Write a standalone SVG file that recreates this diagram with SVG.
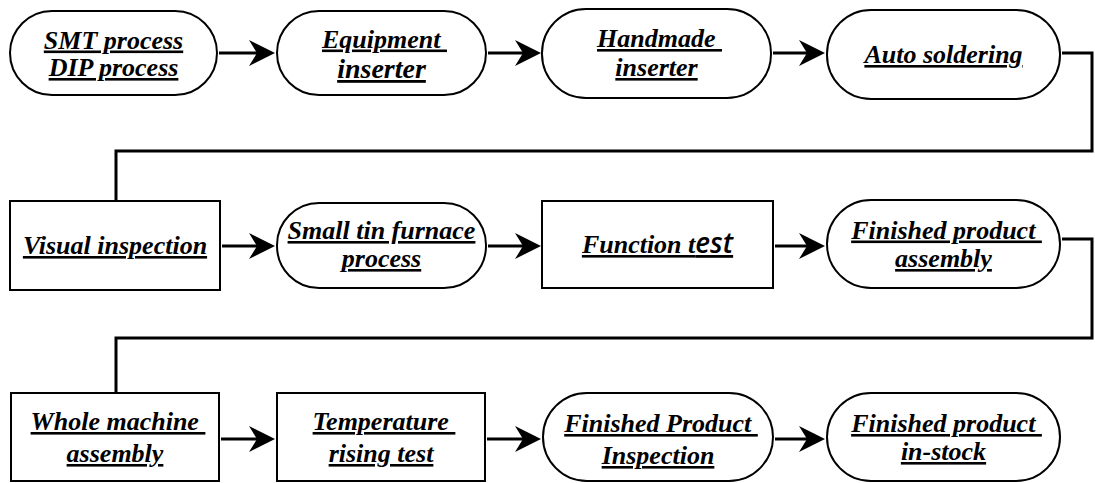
<svg xmlns="http://www.w3.org/2000/svg" width="1095" height="483" viewBox="0 0 1095 483">
<style>
.pill,.box{fill:#fff;stroke:#000;stroke-width:2}
.conn{fill:none;stroke:#000;stroke-width:3}
text{font-family:"Liberation Serif",serif;font-weight:bold;font-style:italic;font-size:26px;text-anchor:middle;text-decoration:underline;fill:#000}
</style>
<defs>
<marker id="ah" markerUnits="userSpaceOnUse" markerWidth="28" markerHeight="26" refX="8" refY="13" orient="auto" viewBox="0 0 28 26"><path d="M0,0 L26,13 L0,26 L8,13 Z" fill="#000"/></marker>
</defs>
<rect width="1095" height="483" fill="#fff"/>
<g id="connectors">
<path class="conn" d="M219,53 H257" marker-end="url(#ah)"/>
<path class="conn" d="M488,53 H523" marker-end="url(#ah)"/>
<path class="conn" d="M773,53 H807" marker-end="url(#ah)"/>
<path class="conn" d="M1062,53 H1092 V151 H116 V201"/>
<path class="conn" d="M222,246 H257" marker-end="url(#ah)"/>
<path class="conn" d="M488,246 H523" marker-end="url(#ah)"/>
<path class="conn" d="M775,246 H807" marker-end="url(#ah)"/>
<path class="conn" d="M1062,239 H1092 V338 H116 V393"/>
<path class="conn" d="M221,439 H257" marker-end="url(#ah)"/>
<path class="conn" d="M487,439 H523" marker-end="url(#ah)"/>
<path class="conn" d="M775,439 H807" marker-end="url(#ah)"/>
</g>
<g id="n1"><rect class="pill" x="10" y="11" width="207" height="84" rx="42"/><text x="113.5" y="48.5">SMT process</text><text x="113.5" y="76">DIP process</text></g>
<g id="n2"><rect class="pill" x="277" y="11" width="209" height="84" rx="42"/><text x="384.5" y="47.5" xml:space="preserve">Equipment </text><text x="381.5" y="78" style="font-size:28px">inserter</text></g>
<g id="n3"><rect class="pill" x="542" y="9" width="229" height="89" rx="44"/><text x="659.5" y="47" xml:space="preserve">Handmade </text><text x="656.5" y="76">inserter</text></g>
<g id="n4"><rect class="pill" x="827" y="10" width="233" height="89" rx="44"/><text x="943.5" y="63">Auto soldering</text></g>
<g id="n5"><rect class="box" x="10" y="201" width="210" height="89"/><text x="115" y="254">Visual inspection</text></g>
<g id="n6"><rect class="pill" x="277" y="203" width="209" height="85" rx="42"/><text x="381.5" y="239">Small tin furnace</text><text x="381.5" y="267">process</text></g>
<g id="n7"><rect class="box" x="542" y="201" width="231" height="87"/><text x="657.5" y="253">Function t<tspan style="font-family:'Open Sans',sans-serif;font-weight:600;font-size:28px">est</tspan></text></g>
<g id="n8"><rect class="pill" x="827" y="200" width="233" height="88" rx="44"/><text x="946.5" y="238.5" xml:space="preserve">Finished product </text><text x="943.5" y="267">assembly</text></g>
<g id="n9"><rect class="box" x="11" y="393" width="208" height="88"/><text x="118" y="430" xml:space="preserve">Whole machine </text><text x="115" y="462">assembly</text></g>
<g id="n10"><rect class="box" x="277" y="393" width="208" height="88"/><text x="384" y="430" xml:space="preserve">Temperature </text><text x="381" y="462">rising test</text></g>
<g id="n11"><rect class="pill" x="543" y="393" width="230" height="88" rx="44"/><text x="661" y="432" xml:space="preserve">Finished Product </text><text x="658" y="464">Inspection</text></g>
<g id="n12"><rect class="pill" x="827" y="393" width="233" height="88" rx="44"/><text x="946.5" y="432" xml:space="preserve">Finished product </text><text x="943.5" y="460">in-stock</text></g>
</svg>
